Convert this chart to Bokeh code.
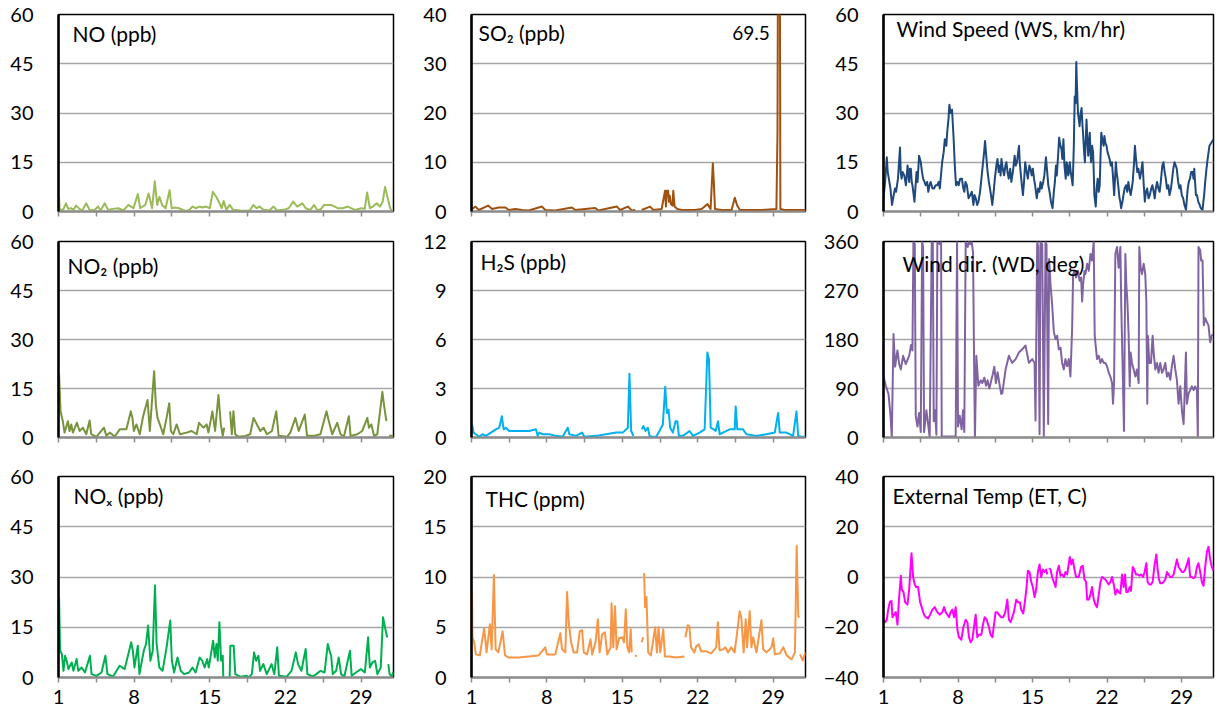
from bokeh.plotting import figure
from bokeh.layouts import row, column
from bokeh.models import FixedTicker, Range1d, Label
from bokeh.embed import file_html
from bokeh.resources import INLINE

nan = float("nan")

# x axis (day of month)
x_major = [1, 8, 15, 22, 29]
x_minor = [4.5, 11.5, 18.5, 25.5]
x_labels = ["1", "8", "15", "22", "29"]

# ---------- series: (day, value) ----------
no_pts = [(1.05,4.5),(1.1,0.8),(1.4,0.3),(1.69,2.5),(1.9,0.8),(2.16,1.0),(2.4,0.5),(2.63,1.8),(2.94,0.8),(3.2,0.3),
          (3.56,2.5),(3.88,0.5),(4.3,0.3),(4.66,1.5),(4.9,0.3),(5.28,2.5),(5.59,0.5),(6.0,0.8),(6.53,1.0),(7.0,0.3),
          (7.47,2.0),(7.7,1.5),(7.94,1.0),(8.34,5.3),(8.56,1.0),(9.03,2.0),(9.34,5.5),(9.66,1.0),(9.91,9.2),(10.13,2.0),
          (10.34,4.5),(10.59,2.0),(10.91,1.0),(11.28,6.5),(11.47,1.0),(11.8,1.2),(12.16,1.0),(12.5,0.5),(12.78,0.2),(13.1,0.5),
          (13.41,1.5),(13.7,1.0),(14.03,1.5),(14.3,1.2),(14.66,1.5),(15.0,1.0),(15.28,6.0),(15.59,4.5),(15.91,2.5),(16.1,1.0),
          (16.28,3.2),(16.53,0.5),(16.84,2.0),(17.16,0.5),(17.8,0.3),(18.41,0.2),(18.7,0.3),(19.03,2.0),(19.34,1.0),(19.6,1.5),
          (19.97,0.5),(20.5,0.3),(20.91,1.5),(21.22,0.3),(21.84,0.5),(22.3,1.0),(22.72,3.0),(23.09,1.5),(23.56,2.5),(23.88,1.0),
          (24.3,0.5),(24.66,2.0),(24.97,0.3),(25.3,0.8),(25.59,2.0),(26.22,2.0),(26.84,1.0),(27.3,1.0),(27.78,1.5),(28.41,0.5),
          (29.03,1.0),(29.34,0.8),(29.56,5.8),(29.81,1.0),(30.1,1.5),(30.44,2.5),(30.75,1.5),(31.0,3.0),(31.22,7.5),(31.47,4.0),
          (31.69,1.0),(31.91,0.0)]

no2_pts = [(1.05,19.5),(1.19,8),(1.40,5),(1.56,1.5),(1.87,5),(2.02,2),(2.18,4),(2.33,1.5),(2.70,4.5),(2.95,2),(3.26,3),
           (3.57,1),(3.88,5.2),(4.03,1),(4.50,0.2),(5.21,3),(5.43,0.5),(5.74,1.5),(6.20,0.3),(6.67,2.5),(7.28,2.5),(7.69,8),
           (7.84,6),(7.97,2),(8.21,4),(8.52,1),(8.83,6.5),(9.24,11.5),(9.45,2),(9.85,20.3),(10.01,10),(10.16,6),(10.38,4),
           (10.69,1),(11.0,6),(11.25,10.5),(11.40,2),(11.62,1),(11.93,4),(12.24,1),(12.86,1.5),(13.32,2),(13.79,1),(14.0,4.5),
           (14.41,3),(14.71,4),(14.87,1.5),(15.24,8),(15.49,2),(15.80,13),(16.02,4),(16.20,0.5),(16.33,3),(16.5,nan),
           (16.88,8),(17.04,1),(17.19,8),(17.35,1),(17.66,0.2),(18.28,0.5),(18.74,1),(19.05,6),(19.36,4),(19.67,2),(19.98,3),
           (20.29,1),(20.75,2),(21.15,8),(21.37,0.5),(22.15,0.2),(22.45,1.5),(22.92,6),(23.23,2),(23.79,7),(24.0,0.5),
           (24.62,0.5),(25.24,1),(25.80,8),(26.02,5),(26.33,1),(26.79,4.5),(27.10,1),(27.41,0.3),(27.87,6.5),(28.03,0.5),
           (28.65,1),(29.11,2),(29.58,6),(29.73,3),(29.95,4),(30.20,0.5),(30.50,1),(30.97,14),(31.12,10),(31.34,5),
           (31.45,nan),(31.59,0.5),(31.99,0.5)]

nox_pts = [(1.05,24),(1.15,8),(1.31,7),(1.46,2),(1.61,6.5),(1.76,5),(1.92,2.5),(2.22,4.5),(2.38,2),(2.68,5.5),(2.83,2),
           (3.14,3),(3.45,1.5),(3.91,6.5),(4.06,1),(4.52,0.5),(4.98,1.5),(5.34,6.5),(5.53,1),(6.05,0.3),(6.66,3.5),(7.12,2.5),
           (7.73,10.5),(7.88,8),(8.03,3),(8.34,9.5),(8.49,1),(8.89,8),(9.10,10),(9.29,15.5),(9.50,5),(9.72,8),(9.93,27.5),
           (10.08,10),(10.33,3),(10.63,2),(11.0,9),(11.34,17),(11.49,5),(11.70,1.5),(12.01,6),(12.31,2),(12.62,1),(13.08,1.5),
           (13.39,3),(13.69,1.5),(14.06,6),(14.30,5),(14.52,3),(14.76,5.5),(14.91,3),(15.31,11),(15.46,6),(15.62,10),
           (15.74,5),(15.89,16.5),(16.05,5),(16.20,6.5),(16.25,0),(16.3,nan),(16.84,0),(16.90,9.5),(17.21,9.5),(17.36,1),
           (17.82,0.2),(18.43,0.5),(18.58,0),(18.89,1),(19.10,7.5),(19.29,5),(19.50,6.5),(19.65,2),(19.96,4),(20.27,1),
           (20.72,4),(20.97,1),(21.24,9),(21.40,0.5),(22.10,0.2),(22.56,2),(22.96,7.5),(23.17,4),(23.48,2),(23.87,8.5),
           (24.03,1),(24.55,0.3),(24.85,1),(25.25,2),(25.62,1.5),(25.92,10),(26.08,8),(26.23,6.5),(26.38,1),(26.69,2),
           (26.93,6),(27.15,1),(27.45,0.3),(27.97,8),(28.13,0.5),(28.52,1.5),(28.98,2.5),(29.35,1.5),(29.65,12),(29.81,3),
           (30.05,4.5),(30.30,5),(30.51,1),(30.82,3),(31.03,18),(31.21,15),(31.37,12.5),(31.43,12),(31.47,nan),(31.52,4),
           (31.64,1),(31.83,0.3),(31.98,1.5),(32.0,1)]

so2_pts = [(1.0,0.5),(1.37,1.0),(1.68,0.3),(2.54,1.2),(2.91,0.5),(3.53,0.8),(4.15,0.8),(4.46,0.3),(5.07,0.5),(5.69,0.3),
           (6.31,0.2),(7.54,1.0),(7.85,0.3),(8.78,0.2),(10.32,0.8),(10.63,0.3),(11.56,0.5),(12.48,0.7),(12.79,0.2),(13.41,0.5),
           (14.49,1.0),(14.80,0.3),(15.51,1.0),(15.88,0.2),(16.2,0.3),(16.3,nan),(16.80,0.3),(17.57,1.0),(17.88,0.3),
           (18.65,0.5),(18.96,4.2),(19.05,1.0),(19.12,4.2),(19.25,4.2),(19.33,2.0),(19.40,3.2),(19.50,1.5),(19.65,1.2),
           (19.73,4.2),(19.85,1.0),(20.10,0.5),(20.51,0.3),(21.74,0.3),(22.36,0.5),(22.91,1.5),(23.19,0.5),(23.40,9.8),
           (23.50,5.5),(23.60,0.5),(24.21,0.3),(25.14,0.3),(25.44,2.8),(25.66,1.2),(25.91,0.3),(27.91,0.3),(29.30,0.5),
           (29.40,16),(29.47,69.5),(29.60,69.5),(29.67,0.5),(30.07,0.3),(32.0,0.3)]
so2_peak = 69.5

h2s_pts = [(1.05,0.8),(1.19,0.3),(1.40,0.2),(1.71,0.05),(2.02,0.2),(2.33,0.1),(2.80,0.3),(3.26,0.5),(3.57,0.6),(3.82,1.3),
           (3.98,0.5),(4.19,0.6),(4.50,0.4),(5.12,0.4),(5.74,0.4),(6.36,0.4),(6.98,0.5),(7.14,0.1),(7.29,0.3),(7.60,0.2),
           (8.22,0.2),(8.84,0.1),(9.46,0.05),(9.93,0.6),(10.08,0.2),(10.70,0.1),(11.26,0.3),(11.48,0.05),(12.56,0.1),
           (13.49,0.2),(14.42,0.3),(15.04,0.3),(15.51,0.6),(15.66,3.9),(15.82,0.4),(16.03,0.1),(16.3,nan),(16.81,0.5),
           (16.96,0.7),(17.15,0.4),(17.37,0.6),(17.52,0.1),(17.77,0.05),(18.14,0.05),(18.45,0.4),(18.76,0.8),(18.98,3.1),
           (19.13,1.5),(19.29,1.7),(19.44,0.6),(19.69,0.3),(19.94,1.0),(20.10,1.0),(20.25,0.1),(20.62,0.1),(21.24,0.4),
           (21.55,0.1),(22.17,0.3),(22.64,0.5),(22.89,5.2),(23.04,4.8),(23.20,0.6),(23.47,0.5),(23.66,0.4),(23.88,1.0),
           (24.03,0.2),(24.34,0.3),(24.96,0.5),(25.43,0.5),(25.52,1.9),(25.67,0.5),(26.20,0.5),(26.51,0.2),(27.44,0.1),
           (28.37,0.2),(29.15,0.3),(29.46,1.5),(29.61,0.3),(30.23,0.3),(30.85,0.1),(31.16,1.6),(31.32,0.1),(31.63,0.05),
           (32.0,0.05)]

thc_pts = [(1.05,8.6),(1.09,4),(1.25,3.5),(1.40,2.3),(1.78,2.2),(1.93,3.3),(2.18,4.9),(2.40,2.5),(2.71,5.3),(2.87,2.8),
           (3.08,10.2),(3.24,2.8),(3.49,2.5),(3.89,4.6),(4.11,2.2),(4.42,2.0),(5.36,2.0),(6.29,2.1),(7.22,2.2),(7.84,3.0),
           (8.0,2.3),(8.78,2.3),(9.0,3.3),(9.25,4.4),(9.40,2.8),(9.71,2.5),(9.87,8.5),(10.02,5.5),(10.24,3.5),(10.49,2.5),
           (10.80,2.5),(11.05,4.6),(11.27,4.7),(11.42,2.5),(11.73,2.3),(12.05,3.8),(12.20,2.3),(12.51,3.5),(12.73,5.8),
           (12.89,2.5),(13.13,4.3),(13.38,4.5),(13.60,2.3),(13.91,3),(14.0,7.4),(14.16,3),(14.32,7.1),(14.47,2.8),(14.69,3.9),
           (15.0,4.0),(15.16,3.5),(15.32,6.8),(15.47,3),(15.63,2.5),(15.78,4.8),(15.87,2.5),(15.95,nan),(16.18,2.2),
           (16.34,2.1),(16.4,nan),(16.80,3.5),(16.93,4),(16.98,nan),(17.02,10.4),(17.11,7),(17.24,8),(17.40,2.5),(17.65,2.2),
           (18.05,5),(18.21,2.5),(18.36,5),(18.52,2.5),(18.80,4.8),(18.95,2.1),(19.36,2.1),(19.98,2.0),(20.76,2.1),(20.8,nan),
           (20.85,4),(21.07,5.2),(21.22,5.1),(21.38,3),(21.69,2.5),(21.85,3.1),(22.10,3.3),(22.31,2.6),(22.78,2.6),(23.25,2.4),
           (23.71,3.0),(23.87,5.5),(24.02,2.7),(24.34,2.8),(24.58,3),(24.80,2.5),(25.11,3),(25.42,2.5),(25.74,5.2),(25.89,6.6),
           (26.05,5.9),(26.26,2.5),(26.45,5.8),(26.58,3),(26.82,6.6),(26.98,3),(27.14,4),(27.45,2.5),(27.91,5.7),(28.07,2.8),
           (28.38,2.5),(28.85,3),(29.0,3.9),(29.16,2.3),(29.62,2.4),(29.94,3.0),(30.25,2.2),(30.71,1.8),(31.02,2.5),
           (31.18,13.1),(31.33,6.1),(31.43,6),(31.46,nan),(31.49,2.3),(31.74,1.7),(31.96,2.4),(32.0,2.2)]

ws_pts = [(1.0,4),(1.15,9),(1.31,16.5),(1.40,12),(1.50,10),(1.65,7),(1.80,2),(1.96,5),(2.08,7),(2.18,6),(2.36,10),
          (2.55,19.5),(2.62,12),(2.70,10),(2.80,12),(2.95,11),(3.11,8),(3.26,14),(3.41,9),(3.48,13),(3.57,13),(3.65,9),
          (3.72,8),(3.91,3),(4.10,12),(4.20,9),(4.34,17),(4.50,15),(4.62,12),(4.72,10),(4.85,9),(4.96,8),(5.10,9),(5.21,6),
          (5.32,8),(5.43,9),(5.60,7),(5.74,7),(5.90,8),(6.05,8),(6.18,9),(6.29,7),(6.51,15),(6.65,18),(6.76,22),(6.90,20),
          (6.98,24),(7.10,28),(7.19,32.5),(7.30,30),(7.44,31),(7.59,22),(7.70,14),(7.81,8),(7.95,9),(8.06,8),(8.20,10),
          (8.37,10),(8.50,7),(8.59,6),(8.70,9),(8.83,8),(8.99,4),(9.15,5),(9.30,6),(9.45,2),(9.55,5),(9.67,4),(9.80,2),
          (9.92,3),(10.07,6),(10.20,10),(10.29,13),(10.45,18),(10.54,21.5),(10.65,17),(10.78,12),(10.90,9),(11.0,7),
          (11.10,5),(11.22,2),(11.35,6),(11.46,10),(11.60,14),(11.71,16),(11.82,12),(11.93,14),(12.0,11),(12.08,16),
          (12.20,13),(12.33,11),(12.45,14),(12.55,15),(12.65,12),(12.76,10),(12.90,13),(13.01,9),(13.15,12),(13.32,17),
          (13.42,14),(13.54,15),(13.65,18),(13.73,20),(13.80,15),(13.88,12),(14.0,8),(14.10,5),(14.20,9),(14.31,15),
          (14.45,12),(14.56,10),(14.70,14),(14.81,13),(14.92,11),(15.03,13),(15.14,10),(15.24,8),(15.32,6),(15.40,4),
          (15.52,7),(15.64,6),(15.75,9),(15.86,7),(16.0,9),(16.11,11),(16.26,16.5),(16.38,12),(16.48,8),(16.60,6),(16.73,3),
          (16.88,1),(17.0,6),(17.10,9),(17.20,14),(17.28,11),(17.40,17),(17.50,22.5),(17.62,20),(17.72,19),(17.80,16),
          (17.90,22),(18.0,14),(18.12,10),(18.20,15),(18.28,14),(18.35,11),(18.43,12),(18.50,15),(18.59,12),(18.68,10),
          (18.77,8),(18.88,20),(18.96,35),(19.04,33),(19.11,45.5),(19.18,38),(19.27,30),(19.35,28),(19.42,26),(19.52,30),
          (19.61,31.5),(19.68,27),(19.76,23),(19.85,18),(19.92,15),(20.0,22),(20.07,28),(20.15,22),(20.23,17),(20.30,21),
          (20.38,24),(20.44,18),(20.50,15),(20.60,20),(20.69,18),(20.75,12),(20.81,5),(20.94,1.5),(21.02,7),(21.12,10),
          (21.22,6),(21.31,8),(21.38,16),(21.46,24),(21.55,22),(21.68,20),(21.75,23),(21.84,21),(21.95,20),(22.05,18),
          (22.15,17),(22.24,16),(22.35,14),(22.46,15),(22.55,11),(22.67,5),(22.75,10),(22.83,15),(22.90,12),(22.98,10),
          (23.08,7),(23.17,4),(23.25,3),(23.32,1),(23.45,3),(23.54,5),(23.65,7),(23.79,8),(23.90,6),(24.0,9),(24.10,7),
          (24.22,5),(24.32,7),(24.41,9),(24.52,14),(24.62,20),(24.72,16),(24.84,12),(24.95,13),(25.09,10),(25.20,12),
          (25.33,15),(25.45,8),(25.55,3),(25.65,6),(25.77,7),(25.90,4),(26.02,5),(26.15,7),(26.26,8),(26.38,6),(26.48,4),
          (26.58,7),(26.70,9),(26.82,7),(26.94,6),(27.05,9),(27.19,14),(27.30,15),(27.41,12),(27.52,10),(27.63,7),(27.75,8),
          (27.87,5),(28.0,7),(28.12,10),(28.22,13),(28.34,15),(28.45,14),(28.55,13),(28.68,9),(28.80,7),(28.90,8),(29.02,5),
          (29.15,4),(29.27,2),(29.42,0.5),(29.50,4),(29.58,7),(29.68,9),(29.79,10),(29.90,12),(30.04,12),(30.12,10),
          (30.19,13),(30.27,9),(30.35,5),(30.45,5),(30.57,3),(30.70,2),(30.81,1),(30.97,0.5),(31.05,3),(31.12,5),(31.22,9),
          (31.34,13),(31.45,16),(31.62,20),(32.0,22)]

wd_pts = [(1.0,112),(1.22,95),(1.47,80),(1.66,40),(1.78,0),(1.94,190),(2.09,130),(2.31,160),(2.47,135),(2.63,125),
          (2.84,150),(3.09,135),(3.41,150),(3.59,170),(3.72,160),(3.81,360),(3.94,355),(4.03,40),(4.19,20),(4.34,45),
          (4.5,10),(4.63,360),(4.72,350),(4.81,10),(5.03,50),(5.22,20),(5.34,0),(5.53,360),(5.63,360),(5.72,30),(5.84,50),
          (5.97,5),(6.06,360),(6.28,355),(6.41,360),(6.47,2),(7.78,2),(7.91,360),(8.0,20),(8.16,40),(8.34,15),(8.47,50),
          (8.59,10),(8.72,360),(8.91,350),(9.03,360),(9.16,355),(9.28,360),(9.41,340),(9.53,100),(9.59,0),(9.72,150),
          (9.91,95),(10.13,105),(10.28,100),(10.47,110),(10.63,95),(10.78,105),(10.94,90),(11.25,115),(11.41,130),(11.56,100),
          (11.72,120),(11.88,100),(12.06,80),(12.16,81),(12.47,125),(12.78,150),(13.09,137),(13.41,144),(13.72,156),
          (14.03,162),(14.34,169),(14.66,137),(14.97,144),(15.19,137),(15.28,31),(15.44,360),(15.53,350),(15.66,6),
          (15.75,360),(15.91,355),(16.06,0),(16.22,360),(16.31,355),(16.47,25),(16.56,328),(16.69,281),(16.84,244),(17.0,194),
          (17.16,181),(17.31,187),(17.47,162),(17.63,165),(17.78,137),(17.94,125),(18.09,144),(18.25,131),(18.41,144),
          (18.56,112),(18.72,200),(18.81,300),(18.97,306),(19.09,294),(19.28,306),(19.41,288),(19.56,294),(19.66,250),
          (19.75,281),(19.88,306),(19.97,300),(20.13,319),(20.28,306),(20.44,337),(20.59,325),(20.75,360),(20.84,187),
          (21.06,144),(21.22,150),(21.38,137),(21.53,144),(21.69,137),(21.84,137),(22.0,131),(22.16,119),(22.31,112),
          (22.47,100),(22.56,62),(22.66,100),(22.78,337),(22.94,350),(23.09,312),(23.25,350),(23.34,237),(23.47,125),
          (23.59,12),(23.72,337),(23.81,281),(23.91,250),(24.03,187),(24.13,94),(24.22,156),(24.34,137),(24.50,125),
          (24.66,112),(24.81,125),(24.97,100),(25.03,350),(25.16,312),(25.28,300),(25.44,319),(25.59,300),(25.69,250),
          (25.78,62),(25.84,187),(25.97,137),(26.13,137),(26.28,187),(26.38,156),(26.53,125),(26.69,137),(26.84,119),
          (27.0,137),(27.16,119),(27.31,125),(27.47,137),(27.63,112),(27.78,119),(27.94,106),(28.09,131),(28.25,150),
          (28.41,125),(28.56,106),(28.72,62),(28.88,94),(29.03,50),(29.19,25),(29.28,75),(29.41,156),(29.50,62),(29.66,81),
          (29.81,87),(29.97,94),(30.13,87),(30.28,94),(30.44,87),(30.53,0),(30.59,350),(30.75,344),(30.84,325),(30.97,325),
          (31.09,206),(31.22,219),(31.38,212),(31.53,206),(31.69,175),(31.84,187),(31.91,190)]

et_pts = [(1.0,-17),(1.16,-18),(1.31,-17),(1.44,-13),(1.59,-10),(1.75,-9.5),(1.84,-16),(2.0,-15),(2.16,-14),(2.31,-19),
          (2.47,-8),(2.63,0.5),(2.72,-5),(2.88,-6),(3.03,-10),(3.25,-11),(3.41,-5),(3.63,9.5),(3.78,0),(3.94,-3),(4.06,-4),
          (4.25,-4),(4.44,-10),(4.66,-13),(4.81,-15),(4.97,-16),(5.19,-16.5),(5.38,-15),(5.59,-13),(5.81,-12),(6.06,-14),
          (6.28,-15),(6.53,-14),(6.69,-12),(6.84,-14),(7.0,-15),(7.16,-16),(7.31,-14),(7.47,-13),(7.63,-16),(7.78,-12),
          (7.94,-21),(8.09,-24),(8.31,-25),(8.50,-20),(8.72,-17),(8.88,-18),(9.03,-24),(9.19,-26),(9.34,-25),(9.50,-20),
          (9.66,-15),(9.81,-24),(9.97,-23),(10.19,-23),(10.34,-19),(10.50,-16),(10.69,-17),(10.91,-20),(11.06,-23),
          (11.22,-24),(11.38,-19),(11.53,-14),(11.69,-14),(11.84,-15),(12.06,-16),(12.25,-16),(12.44,-14),(12.63,-9),
          (12.78,-17),(12.94,-18),(13.09,-16),(13.25,-14),(13.47,-9),(13.63,-10),(13.81,-10),(13.94,-13),(14.13,-14.5),
          (14.28,-10),(14.44,-4),(14.56,2.5),(14.72,2),(14.88,-2),(15.03,-4),(15.19,-8),(15.34,-5),(15.50,2),(15.66,5),
          (15.81,0),(15.97,3),(16.13,2),(16.28,3),(16.38,1),(16.45,nan),(16.53,3.5),(16.69,3),(16.84,0),(17.0,-2),(17.16,-4),
          (17.31,2),(17.47,4.5),(17.63,0.5),(17.78,1),(17.94,0),(18.09,2),(18.25,1),(18.50,8),(18.63,5),(18.78,7),(18.94,3),
          (19.09,0),(19.34,0),(19.56,4),(19.72,4.5),(19.88,-1),(20.03,-2),(20.13,-9),(20.28,-9),(20.44,-7),(20.59,-4),
          (20.75,-9),(20.91,-11),(21.06,-12),(21.22,-7),(21.38,-2),(21.53,0),(21.69,-0.5),(21.84,-1),(22.0,-2),(22.16,-3),
          (22.31,-2),(22.47,0),(22.63,-3),(22.78,-7),(22.94,-5),(23.09,-6),(23.25,-6.5),(23.41,1),(23.56,-4),(23.69,1),
          (23.81,-6),(23.94,-6),(24.13,-4),(24.25,-5.5),(24.41,4),(24.56,3),(24.72,1),(24.91,1),(25.06,0.5),(25.22,1),
          (25.38,0),(25.53,2),(25.69,5.5),(25.81,-2),(25.97,-3),(26.13,-3),(26.28,-2),(26.47,5),(26.63,9),(26.75,3),
          (26.88,-1),(27.0,-2.5),(27.16,-2.5),(27.31,-2),(27.47,-1),(27.63,2),(27.78,1),(27.94,0),(28.09,0),(28.25,1),
          (28.41,4),(28.56,7),(28.72,4),(28.88,3),(29.03,2),(29.19,2),(29.34,3),(29.50,5),(29.66,7.5),(29.81,0),(29.97,0),
          (30.13,-0.5),(30.28,0),(30.44,4),(30.59,5.5),(30.75,2),(30.91,-2),(31.06,-3.5),(31.22,4),(31.38,10),(31.53,12),
          (31.69,7),(31.84,4),(32.0,2.5)]

# y ticks per panel
ticks_nox = [0, 15, 30, 45, 60]
ticks_so2 = [0, 10, 20, 30, 40]
ticks_h2s = [0, 3, 6, 9, 12]
ticks_thc = [0, 5, 10, 15, 20]
ticks_ws = [0, 15, 30, 45, 60]
ticks_wd = [0, 90, 180, 270, 360]
ticks_et = [-40, -20, 0, 20, 40]

FONT = "Lato"
TICK_FS = "20px"
TITLE_FS = "21px"

col_w = [420, 400, 396]
col_lb = [58, 51, 63]
col_rb = [27, 15, 3]
row_h = [228, 230, 255]
row_tb = [14, 13, 18]
row_bb = [17, 21, 36]

panels = [
    # row, col, points, color, yticks, title, title x/y offsets
    (0, 0, no_pts, "#9bbb59", ticks_nox, "NO (ppb)", 14, 19),
    (0, 1, so2_pts, "#a0500f", ticks_so2, "SO\u2082 (ppb)", 7, 18),
    (0, 2, ws_pts, "#1f497d", ticks_ws, "Wind Speed (WS, km/hr)", 13, 14),
    (1, 0, no2_pts, "#77933c", ticks_nox, "NO\u2082 (ppb)", 9, 24),
    (1, 1, h2s_pts, "#00b0f0", ticks_h2s, "H\u2082S (ppb)", 9, 20),
    (1, 2, wd_pts, "#8064a2", ticks_wd, "Wind dir. (WD, deg)", 19, 22),
    (2, 0, nox_pts, "#00b050", ticks_nox, "NO\u2093 (ppb)", 15, 19),
    (2, 1, thc_pts, "#f79646", ticks_thc, "THC (ppm)", 14, 22),
    (2, 2, et_pts, "#ff00ff", ticks_et, "External Temp (ET, C)", 9, 19),
]

figs = {}
for (r, c, pts, color, yt, title, tx, ty) in panels:
    xs = [q[0] for q in pts]
    ys = [q[1] for q in pts]
    p = figure(width=col_w[c], height=row_h[r],
               x_range=Range1d(1, 32), y_range=Range1d(yt[0], yt[-1]),
               output_backend="svg", toolbar_location=None,
               min_border_left=col_lb[c], min_border_right=col_rb[c],
               min_border_top=row_tb[r], min_border_bottom=row_bb[r])
    p.background_fill_color = "white"
    p.border_fill_color = "white"
    p.outline_line_color = "black"
    p.outline_line_width = 1.5

    p.line(xs, ys, line_color=color, line_width=2, line_join="round")

    # y axis
    p.yaxis.ticker = FixedTicker(ticks=yt)
    p.yaxis.major_tick_line_color = None
    p.yaxis.minor_tick_line_color = None
    p.yaxis.axis_line_color = "black"
    p.yaxis.axis_line_width = 2.5
    p.yaxis.major_label_standoff = 19
    p.yaxis.major_label_text_font = FONT
    p.yaxis.major_label_text_font_size = TICK_FS
    p.yaxis.major_label_text_color = "black"

    # x axis
    p.xaxis.ticker = FixedTicker(ticks=x_major, minor_ticks=x_minor)
    p.xaxis.axis_line_color = "#8c8c8c"
    p.xaxis.axis_line_width = 2
    p.xaxis.major_tick_line_color = "#8c8c8c"
    p.xaxis.minor_tick_line_color = "#8c8c8c"
    p.xaxis.major_tick_line_width = 1.5
    p.xaxis.minor_tick_line_width = 1.5
    p.xaxis.major_tick_in = 0
    p.xaxis.major_tick_out = 5
    p.xaxis.minor_tick_in = 0
    p.xaxis.minor_tick_out = 5
    p.xaxis.major_label_overrides = {t: lab for t, lab in zip(x_major, x_labels)}
    p.xaxis.major_label_text_font = FONT
    if r == 2:
        p.xaxis.major_label_text_font_size = TICK_FS
        p.xaxis.major_label_text_color = "black"
        p.xaxis.major_label_standoff = 7
    else:
        # tick marks only, no labels on the upper rows
        p.xaxis.major_label_text_font_size = "1px"
        p.xaxis.major_label_text_color = None
        p.xaxis.major_label_standoff = 0

    p.xgrid.visible = False
    p.ygrid.grid_line_color = "#a6a6a6"
    p.ygrid.grid_line_width = 1.5

    p.add_layout(Label(x=1, y=yt[-1], x_offset=tx, y_offset=-ty, text=title,
                       text_font=FONT, text_font_size=TITLE_FS, text_color="black",
                       text_baseline="middle", text_align="left"))
    if title.startswith("SO"):
        p.add_layout(Label(x=28.69, y=36.3, text=f"{so2_peak}", text_font=FONT,
                           text_font_size="19px", text_color="black",
                           text_baseline="middle", text_align="right"))
    figs[(r, c)] = p

layout = column(*[row(*[figs[(r, c)] for c in range(3)]) for r in range(3)])

open("out.html", "w").write(file_html(layout, INLINE))
